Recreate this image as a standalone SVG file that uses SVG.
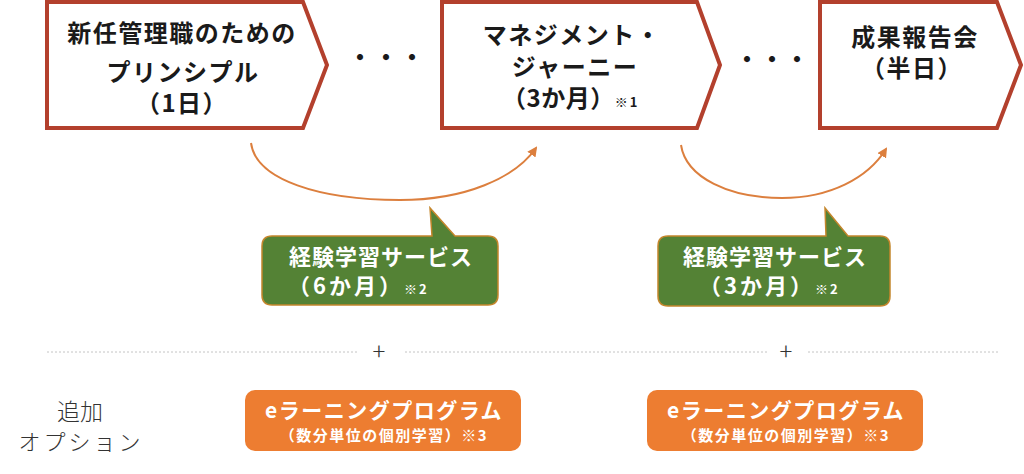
<svg xmlns="http://www.w3.org/2000/svg" width="1024" height="474" viewBox="0 0 1024 474">
<defs>
<style>
.pent{fill:#ffffff;stroke:#b3402d;stroke-width:4;stroke-linejoin:miter}
.t{font-family:"Noto Sans CJK JP","Noto Sans",sans-serif;font-weight:700;fill:#1a1a1a}
.big{font-size:24px;letter-spacing:1.5px}
.note{font-size:13px;letter-spacing:2px}
.w{fill:#ffffff}
.callout{fill:#548235;stroke:#c4862c;stroke-width:1.5}
.obox{fill:#ed7d31}
.arc{fill:none;stroke:#dc7f3e;stroke-width:2}
.dotline{stroke:#c4c4c4;stroke-width:1;stroke-dasharray:2 2}
.thin{font-family:"Noto Sans CJK JP","Noto Sans",sans-serif;font-weight:300;fill:#333333}
</style>
<marker id="ah" viewBox="0 0 10 10" refX="8" refY="5" markerWidth="5" markerHeight="5" orient="auto" markerUnits="strokeWidth">
<path d="M0,0 L10,5 L0,10 Z" fill="#dc7f3e"/>
</marker>
</defs>
<rect x="0" y="0" width="1024" height="474" fill="#ffffff"/>

<g id="step1">
<polygon class="pent" points="47,2 303,2 327,65 303,128 47,128"/>
<text class="t big" x="182" y="42" text-anchor="middle">新任管理職のための</text>
<text class="t big" x="183" y="81" text-anchor="middle">プリンシプル</text>
<text class="t big" x="182" y="112" text-anchor="middle">（1日）</text>
</g>

<g id="dots1">
<text class="t" x="348" y="66" font-size="24" letter-spacing="2">・・・</text>
</g>

<g id="step2">
<polygon class="pent" points="442,2 697,2 720,65 697,128 442,128"/>
<text class="t big" x="572" y="44" text-anchor="middle">マネジメント・</text>
<text class="t big" x="575" y="76" text-anchor="middle">ジャーニー</text>
<text class="t" x="502" y="107" font-size="24" letter-spacing="0.5">（3か月）<tspan class="note">※1</tspan></text>
</g>

<g id="dots2">
<text class="t" x="735" y="68" font-size="24" letter-spacing="1">・・・</text>
</g>

<g id="step3">
<polygon class="pent" points="820,2 997,2 1021,65 997,128 820,128"/>
<text class="t big" x="915" y="46" text-anchor="middle">成果報告会</text>
<text class="t big" x="912" y="77" text-anchor="middle">（半日）</text>
</g>

<g id="connectors">
<path class="arc" d="M251,143 C256,180 320,200 400,200 C465,200 515,178 536,148" marker-end="url(#ah)"/>
<path class="arc" d="M681,145 C686,178 730,198 782,198 C830,198 868,178 886,149" marker-end="url(#ah)"/>
</g>

<g id="callout1">
<path class="callout" d="M272,236 L432,236 L430,208 L455,236 L488,236 Q498,236 498,246 L498,295 Q498,305 488,305 L272,305 Q262,305 262,295 L262,246 Q262,236 272,236 Z"/>
<text class="t w" x="381" y="265" font-size="22" letter-spacing="1" text-anchor="middle">経験学習サービス</text>
<text class="t w" x="288" y="294" font-size="22" letter-spacing="3">（6か月）<tspan class="note">※2</tspan></text>
</g>

<g id="callout2">
<path class="callout" d="M668,236 L826,236 L825,208 L848,236 L880,236 Q890,236 890,246 L890,296 Q890,306 880,306 L668,306 Q658,306 658,296 L658,246 Q658,236 668,236 Z"/>
<text class="t w" x="775" y="265" font-size="22" letter-spacing="1" text-anchor="middle">経験学習サービス</text>
<text class="t w" x="699" y="294" font-size="22" letter-spacing="3">（3か月）<tspan class="note">※2</tspan></text>
</g>

<g id="separator">
<line class="dotline" x1="47" y1="352" x2="357" y2="352"/>
<line class="dotline" x1="405" y1="352" x2="767" y2="352"/>
<line class="dotline" x1="808" y1="352" x2="1000" y2="352"/>
<text class="thin" x="379" y="360" font-size="24" text-anchor="middle">+</text>
<text class="thin" x="786" y="360" font-size="24" text-anchor="middle">+</text>
</g>

<g id="option-label">
<text class="thin" x="80" y="420" font-size="23" text-anchor="middle">追加</text>
<text class="thin" x="81" y="450" font-size="22" letter-spacing="3" text-anchor="middle">オプション</text>
</g>

<g id="elearn1">
<rect class="obox" x="245" y="390" width="276" height="61" rx="10"/>
<text class="t w" x="384" y="418" font-size="21" letter-spacing="1.5" text-anchor="middle">eラーニングプログラム</text>
<text class="t w" x="384" y="441" font-size="15" letter-spacing="1.5" text-anchor="middle">（数分単位の個別学習）※3</text>
</g>

<g id="elearn2">
<rect class="obox" x="647" y="390" width="276" height="61" rx="10"/>
<text class="t w" x="786" y="418" font-size="21" letter-spacing="1.5" text-anchor="middle">eラーニングプログラム</text>
<text class="t w" x="786" y="441" font-size="15" letter-spacing="1.5" text-anchor="middle">（数分単位の個別学習）※3</text>
</g>
</svg>
